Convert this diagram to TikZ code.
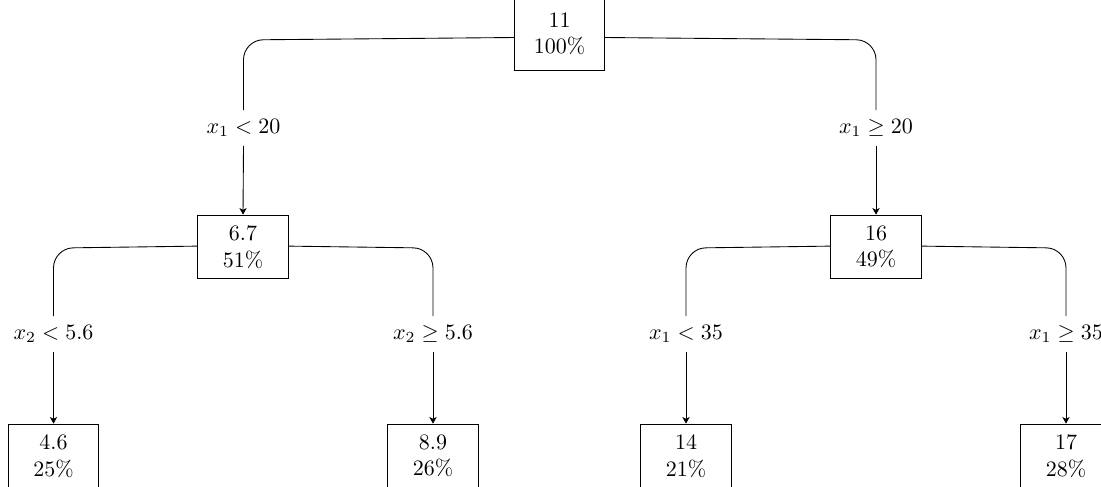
\documentclass[tikz,border=0pt]{standalone}
\usetikzlibrary{arrows.meta}
\begin{document}
\begin{tikzpicture}[x=0.4545pt,y=-0.4545pt,
  box/.style={draw, align=center, minimum width=41pt, minimum height=29pt, inner sep=2pt},
  rootbox/.style={box, minimum height=33pt},
  cond/.style={inner sep=4pt},
  branch/.style={draw, rounded corners=9pt},
  arr/.style={draw, -{Stealth[length=3pt,width=3.3pt,inset=0.8pt]}}]
\useasboundingbox (0,0) rectangle (1101,487);
% nodes
\node[rootbox] (root) at (559.5,34) {11\\100\%};
\node[box] (a) at (243,247) {6.7\\51\%};
\node[box] (b) at (876,247) {16\\49\%};
\node[box] (aa) at (53.5,456) {4.6\\25\%};
\node[box] (ab) at (433,456) {8.9\\26\%};
\node[box] (ba) at (686,456) {14\\21\%};
\node[box] (bb) at (1066,456) {17\\28\%};
% conditions
\node[cond] (ca) at (243.5,128) {$x_1 < 20$};
\node[cond] (cb) at (876,128) {$x_1 \geq 20$};
\node[cond] (caa) at (53.5,334) {$x_2 < 5.6$};
\node[cond] (cab) at (433,334) {$x_2 \geq 5.6$};
\node[cond] (cba) at (686,334) {$x_1 < 35$};
\node[cond] (cbb) at (1066,334) {$x_1 \geq 35$};
% connectors
\draw[branch] ([yshift=-1.6pt]root.west) -- ([yshift=-2.7pt]root.west -| ca.north) -- (ca.north);
\draw[branch] ([yshift=-1.6pt]root.east) -- ([yshift=-2.7pt]root.east -| cb.north) -- (cb.north);
\draw[arr] (ca.south) -- (a.north);
\draw[arr] (cb.south) -- (b.north);
\draw[branch] ([yshift=0.4pt]a.west) -- ([yshift=-0.5pt]a.west -| caa.north) -- (caa.north);
\draw[branch] ([yshift=0.4pt]a.east) -- ([yshift=-0.5pt]a.east -| cab.north) -- (cab.north);
\draw[branch] ([yshift=0.4pt]b.west) -- ([yshift=-0.5pt]b.west -| cba.north) -- (cba.north);
\draw[branch] ([yshift=0.4pt]b.east) -- ([yshift=-0.5pt]b.east -| cbb.north) -- (cbb.north);
\draw[arr] (caa.south) -- (aa.north);
\draw[arr] (cab.south) -- (ab.north);
\draw[arr] (cba.south) -- (ba.north);
\draw[arr] (cbb.south) -- (bb.north);
\end{tikzpicture}
\end{document}
